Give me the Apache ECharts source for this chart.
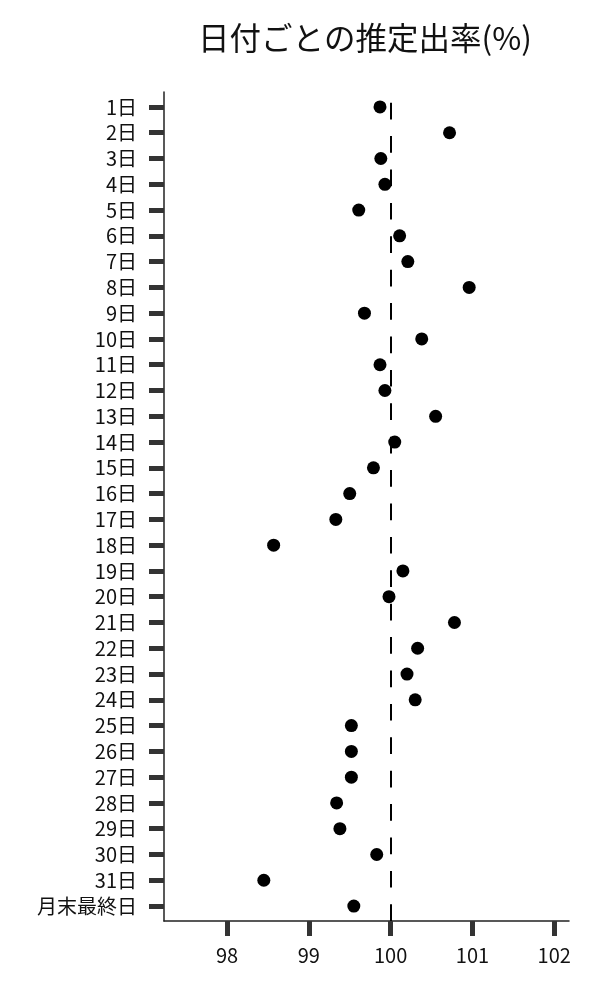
<!DOCTYPE html>
<html>
<head>
<meta charset="UTF-8" />
<title>日付ごとの推定出率</title>
<style type="text/css">
body,html{margin:0;padding:0;border:0;width:100%;height:100%;overflow:hidden;background:#fff;}
</style>
<script src="https://cdn.jsdelivr.net/npm/echarts@6/dist/echarts.min.js"></script>
</head>
<body>
<div id="chartContainer" style="width:600px;height:1000px;"></div>
<script type="text/javascript">
// categories (top -> bottom)
var days = ['1日','2日','3日','4日','5日','6日','7日','8日','9日','10日',
	'11日','12日','13日','14日','15日','16日','17日','18日','19日','20日',
	'21日','22日','23日','24日','25日','26日','27日','28日','29日','30日',
	'31日','月末最終日'];
// estimated rate (%) per day
var rates = [99.87,100.72,99.88,99.93,99.61,100.11,100.21,100.96,99.68,100.38,
	99.87,99.93,100.55,100.05,99.79,99.50,99.33,98.57,100.15,99.98,
	100.78,100.33,100.20,100.30,99.52,99.52,99.52,99.34,99.38,99.83,
	98.45,99.55];
var xTicks = [98,99,100,101,102];
var refValue = 100;
var xMin = 97.23, xMax = 102.18;
var yMin = -0.58, yMax = days.length - 1 + 0.58;

var FONT = '"Noto Sans CJK JP","Noto Sans",sans-serif';

function buildChart()
{
	var idx = [], pts = [];
	for(var i = 0; i < days.length; i++){
		idx.push(i);
		pts.push([rates[i], i]);
	}
	var option = {
		animation: false,
		title: {
			text: '日付ごとの推定出率(%)',
			left: 193, top: 17,
			textStyle: { fontFamily: FONT, fontSize: 31.5, fontWeight: 'normal', color: '#111' }
		},
		grid: { left: 164, right: 31, top: 92, bottom: 79 },
		xAxis: {
			type: 'value', min: xMin, max: xMax,
			axisLine: { onZero: false, lineStyle: { color: '#222', width: 1.5 } },
			axisTick: { customValues: xTicks, length: 15, lineStyle: { color: '#333', width: 5 } },
			axisLabel: {
				customValues: xTicks, margin: 24,
				fontFamily: FONT, fontSize: 20, color: '#111'
			},
			splitLine: { show: false }
		},
		yAxis: {
			type: 'value', inverse: true, min: yMin, max: yMax,
			axisLine: { show: true, onZero: false, lineStyle: { color: '#222', width: 1.5 } },
			axisTick: { show: true, customValues: idx, length: 15, lineStyle: { color: '#333', width: 5 } },
			axisLabel: {
				customValues: idx, margin: 27,
				fontFamily: FONT, fontSize: 20, color: '#111',
				formatter: function(v){ return days[Math.round(v)]; }
			},
			splitLine: { show: false }
		},
		series: [
			{
				type: 'scatter', symbolSize: 13,
				itemStyle: { color: '#000', opacity: 1 },
				data: pts,
				markLine: {
					silent: true, symbol: 'none',
					label: { show: false },
					lineStyle: { color: '#000', type: [16.7, 16.7], width: 2 },
					// drawn bottom -> top so the dash pattern starts at the x axis
					data: [[ { coord: [refValue, yMax] }, { coord: [refValue, yMin] } ]]
				}
			}
		]
	};
	var chart = echarts.init(document.getElementById('chartContainer'));
	chart.setOption(option);
}
buildChart();
</script>
</body>
</html>
